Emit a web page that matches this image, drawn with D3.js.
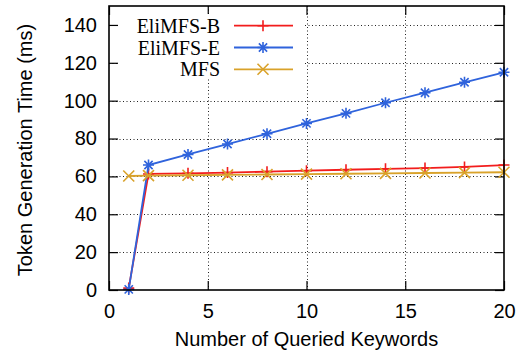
<!DOCTYPE html>
<html>
<head>
<meta charset="utf-8">
<script src="https://cdn.jsdelivr.net/npm/d3@7"></script>
<style>
  html, body { margin: 0; padding: 0; background: #fff; }
  svg { display: block; }
</style>
</head>
<body>
<svg id="chart" width="523" height="355"></svg>
<script>
// Number of queried keywords
const keywords = [1, 2, 4, 6, 8, 10, 12, 14, 16, 18, 20];
// Token generation time (ms) for each scheme
const eliB = [1.0, 61.3, 61.6, 62.0, 62.5, 63.0, 63.5, 64.0, 64.4, 65.0, 66.0];
const eliE = [0.3, 66.0, 71.6, 77.1, 82.5, 88.0, 93.3, 98.9, 104.2, 109.7, 115.0];
const mfs  = [60.2, 60.4, 60.6, 60.8, 61.0, 61.2, 61.4, 61.6, 61.8, 62.0, 62.2];

const seriesNames = ["EliMFS-B", "EliMFS-E", "MFS"];
const xTicks = [0, 5, 10, 15, 20];
const yTicks = [0, 20, 40, 60, 80, 100, 120, 140];

const series = [
  { name: seriesNames[0], values: eliB, color: "#f21d1d", marker: "plus" },
  { name: seriesNames[1], values: eliE, color: "#2f63dc", marker: "star" },
  { name: seriesNames[2], values: mfs,  color: "#d9a22a", marker: "cross" }
];

const svg = d3.select("#chart");
const pLeft = 109, pRight = 504, pTop = 6, pBottom = 290;

const x = d3.scaleLinear().domain([0, 20]).range([pLeft, pRight]);
const y = d3.scaleLinear().domain([0, 150]).range([pBottom, pTop]);

const sans = "'Liberation Sans', Arial, sans-serif";
const serif = "'Liberation Serif', 'Times New Roman', serif";

// dotted grid
const grid = svg.append("g").attr("stroke", "#222").attr("stroke-width", 1)
  .attr("stroke-dasharray", "1,2.5");
grid.selectAll("line.gy").data(yTicks.filter(d => d > 0)).join("line")
  .attr("x1", pLeft).attr("x2", pRight)
  .attr("y1", d => Math.round(y(d)) + 0.5).attr("y2", d => Math.round(y(d)) + 0.5);
grid.selectAll("line.gx").data(xTicks.filter(d => d > 0 && d < 20)).join("line")
  .attr("y1", pTop).attr("y2", pBottom)
  .attr("x1", d => Math.round(x(d)) + 0.5).attr("x2", d => Math.round(x(d)) + 0.5);

// axes with inward ticks, mirrored on top and right
const tickLen = 9;
const axLeft = d3.axisLeft(y).tickValues(yTicks).tickSizeInner(-tickLen).tickSizeOuter(0).tickPadding(12);
const axRight = d3.axisRight(y).tickValues(yTicks).tickSizeInner(-tickLen).tickSizeOuter(0).tickFormat("");
const axBottom = d3.axisBottom(x).tickValues(xTicks).tickSizeInner(-tickLen).tickSizeOuter(0).tickPadding(14);
const axTop = d3.axisTop(x).tickValues(xTicks).tickSizeInner(-tickLen).tickSizeOuter(0).tickFormat("");

function styleAxis(g) {
  g.select(".domain").remove();
  g.selectAll(".tick line").attr("stroke", "#000").attr("stroke-width", 1.2);
  g.selectAll(".tick text").attr("font-family", sans).attr("font-size", 20).attr("fill", "#000");
}
svg.append("g").attr("transform", `translate(${pLeft},0)`).call(axLeft).call(styleAxis);
svg.append("g").attr("transform", `translate(${pRight},0)`).call(axRight).call(styleAxis);
svg.append("g").attr("transform", `translate(0,${pBottom})`).call(axBottom).call(styleAxis);
svg.append("g").attr("transform", `translate(0,${pTop})`).call(axTop).call(styleAxis);

// marker shapes
function markerPath(type, s) {
  if (type === "plus") return `M${-s},0H${s}M0,${-s}V${s}`;
  if (type === "cross") return `M${-s},${-s}L${s},${s}M${-s},${s}L${s},${-s}`;
  return `M${-s},0H${s}M0,${-s}V${s}M${-s*0.75},${-s*0.75}L${s*0.75},${s*0.75}M${-s*0.75},${s*0.75}L${s*0.75},${-s*0.75}`;
}

const line = d3.line().x(d => x(d[0])).y(d => y(d[1]));
const plot = svg.append("g");
series.forEach(s => {
  const pts = keywords.map((k, i) => [k, s.values[i]]);
  plot.append("path").datum(pts).attr("d", line)
    .attr("fill", "none").attr("stroke", s.color).attr("stroke-width", 1.8);
  plot.selectAll(null).data(pts).join("path")
    .attr("transform", d => `translate(${x(d[0])},${y(d[1])})`)
    .attr("d", markerPath(s.marker, 5.5))
    .attr("stroke", s.color).attr("stroke-width", 1.6).attr("fill", "none");
});

// legend on an opaque white box
const leg = svg.append("g");
leg.append("rect").attr("x", 119).attr("y", 14).attr("width", 186).attr("height", 64).attr("fill", "#fff");
series.forEach((s, i) => {
  const ry = 25.7 + i * 21.8;
  leg.append("text").attr("x", 220).attr("y", ry + 7).attr("text-anchor", "end")
    .attr("font-family", serif).attr("font-size", 20).attr("fill", "#000").text(s.name);
  leg.append("line").attr("x1", 234).attr("x2", 293).attr("y1", ry).attr("y2", ry)
    .attr("stroke", s.color).attr("stroke-width", 1.8);
  leg.append("path").attr("transform", `translate(263,${ry})`)
    .attr("d", markerPath(s.marker, 5.5))
    .attr("stroke", s.color).attr("stroke-width", 1.6).attr("fill", "none");
});

// plot border
svg.append("rect").attr("x", pLeft).attr("y", pTop).attr("width", pRight - pLeft).attr("height", pBottom - pTop)
  .attr("fill", "none").attr("stroke", "#000").attr("stroke-width", 1.6);

// axis titles
svg.append("text").attr("x", (pLeft + pRight) / 2).attr("y", 346).attr("text-anchor", "middle")
  .attr("font-family", sans).attr("font-size", 20).attr("fill", "#000").text("Number of Queried Keywords");
svg.append("text").attr("transform", `translate(32,${(pTop + pBottom) / 2 + 2}) rotate(-90)`)
  .attr("text-anchor", "middle").attr("font-family", sans).attr("font-size", 20).attr("fill", "#000")
  .text("Token Generation Time (ms)");
</script>
</body>
</html>
